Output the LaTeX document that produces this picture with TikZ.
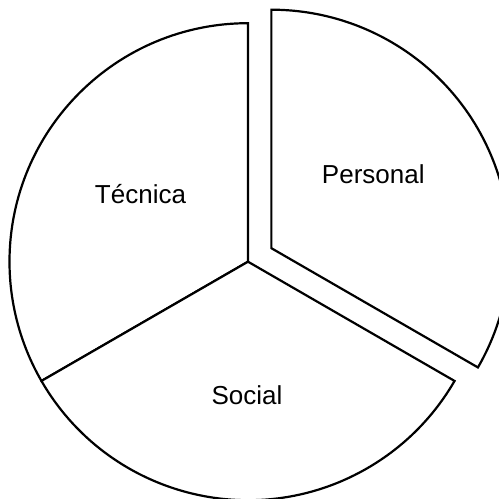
\documentclass[tikz,border=0pt]{standalone}
\usepackage{fontspec}
\setmainfont{Liberation Sans}
\usetikzlibrary{calc}
\begin{document}
\begin{tikzpicture}[x=1pt,y=1pt,
  sector/.style={draw=black,line width=2.2pt,fill=white,line join=miter},
  lbl/.style={font=\fontsize{26}{30}\selectfont,anchor=base,inner sep=0pt}]
\useasboundingbox (0,0) rectangle (499,499);
\clip (0,0) rectangle (499,499);
\coordinate (C) at (248,237.3);
\coordinate (P) at ($(C)+(30:27)$);
\def\R{238.5}
\draw[sector] (C) -- +(90:\R) arc[start angle=90,end angle=210,radius=\R] -- cycle;
\draw[sector] (C) -- +(210:\R) arc[start angle=210,end angle=330,radius=\R] -- cycle;
\draw[sector] (P) -- +(330:\R) arc[start angle=330,end angle=450,radius=\R] -- cycle;
\node[lbl] (tec) at (140.5,295.7) {Técnica};
\node[lbl] (per) at (373.3,315.7) {Personal};
\node[lbl] (soc) at (247,94) {Social};
\end{tikzpicture}
\end{document}
